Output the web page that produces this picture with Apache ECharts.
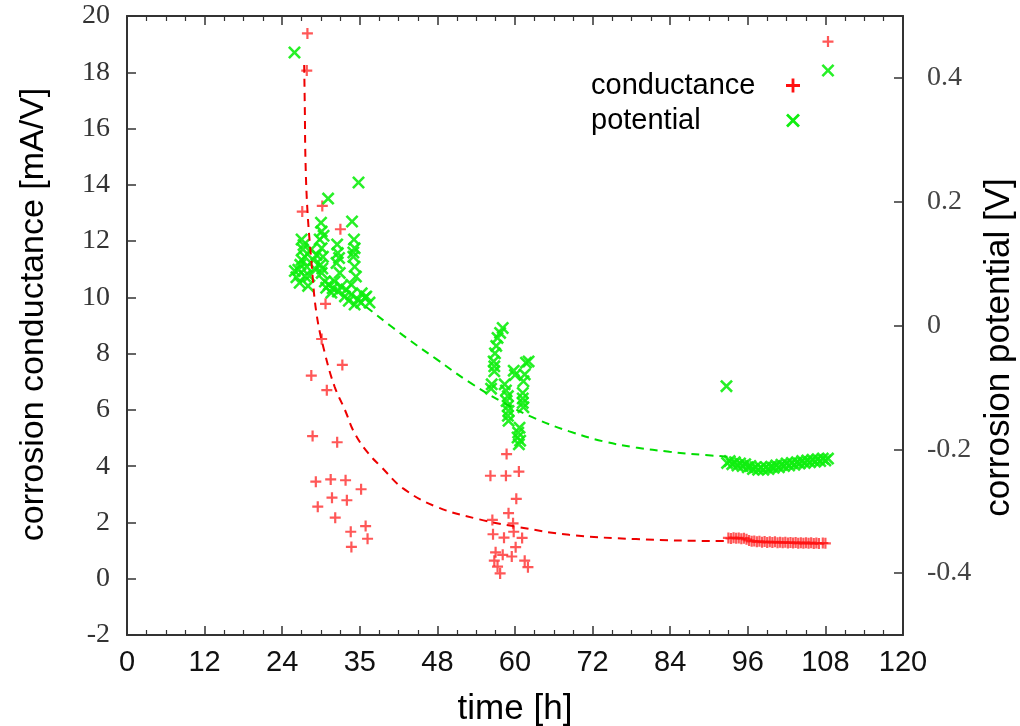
<!DOCTYPE html>
<html>
<head>
<meta charset="utf-8">
<script src="https://cdn.jsdelivr.net/npm/echarts@6/dist/echarts.min.js"></script>
<style>
html,body{margin:0;padding:0;background:#fff;}
#chart{width:1020px;height:726px;}
</style>
</head>
<body>
<div id="chart"></div>
<script>
// ---- tick labels ----
const xTickLabels = ['0','12','24','35','48','60','72','84','96','108','120'];
const rightTickValues = [-0.4, -0.2, 0, 0.2, 0.4];

// ---- conductance [mA/V] measurements: [time h, value] ----
const conductanceEarly = [
  [27.9,19.38],[27.8,18.06],[27.1,13.05],[30.2,13.25],[33.0,12.42],[30.7,9.77],
  [30.1,8.52],[33.3,7.6],[28.5,7.22],[30.9,6.7],[28.7,5.07],[32.5,4.85],
  [29.2,3.45],[31.5,3.53],[33.8,3.5],[36.2,3.18],[31.7,2.88],[34.0,2.79],
  [29.5,2.56],[32.2,2.17],[36.9,1.87],[34.6,1.67],[37.2,1.42],[34.7,1.13]
];
const conductanceMiddle = [
  [58.7,4.43],[56.2,3.66],[58.6,3.66],[60.6,3.81],[60.2,2.84],[59.0,2.33],
  [56.5,2.09],[59.7,1.97],[56.6,1.58],[58.3,1.46],[59.8,1.67],[61.1,1.45],
  [60.1,1.12],[57.0,0.94],[58.1,0.85],[59.5,0.79],[56.8,0.64],[61.5,0.64],
  [57.3,0.43],[62.0,0.41],[57.7,0.19]
];
const conductanceLate = [
  [93.0,1.45],[93.4,1.43],[93.8,1.46],[94.2,1.44],[94.6,1.45],[95.0,1.42],[95.4,1.44],
  [95.8,1.40],[96.2,1.36],[96.6,1.33],[97.0,1.34],[97.4,1.31],[97.8,1.33],[98.2,1.30],
  [98.6,1.32],[99.0,1.29],[99.4,1.31],[99.8,1.29],[100.2,1.31],[100.6,1.28],[101.0,1.30],
  [101.4,1.28],[101.8,1.30],[102.2,1.27],[102.6,1.29],[103.0,1.27],[103.4,1.29],[103.8,1.26],
  [104.2,1.28],[104.6,1.26],[105.0,1.28],[105.4,1.26],[105.8,1.28],[106.2,1.25],[106.6,1.27],
  [107.0,1.25],[107.6,1.27],[108.0,1.26],[108.4,19.09]
];

// ---- corrosion potential [V] measurements: [time h, value] ----
const potentialEarly = [
  [25.9,0.441],[35.8,0.231],[31.1,0.205],[34.8,0.168],
  [25.95,0.088],[27.0,0.139],[27.2,0.123],[27.0,0.106],[26.5,0.090],[27.5,0.080],
  [26.7,0.069],[28.0,0.064],[27.8,0.095],[27.5,0.111],[26.2,0.078],
  [30.0,0.166],[30.1,0.152],[29.8,0.139],[30.1,0.125],[30.3,0.111],[29.9,0.098],
  [30.1,0.085],[30.6,0.071],[29.3,0.114],[28.8,0.106],[28.5,0.123],
  [30.8,0.061],[31.6,0.053],[32.6,0.055],[33.7,0.047],[34.7,0.050],[35.7,0.042],
  [36.8,0.045],[37.5,0.037],[36.2,0.037],[35.2,0.034],[31.2,0.066],[33.9,0.058],
  [32.5,0.131],[32.6,0.117],[32.4,0.101],[32.9,0.085],[32.1,0.071],[33.1,0.063],
  [35.1,0.139],[35.2,0.125],[35.0,0.111],[35.2,0.095],[35.4,0.079],[34.7,0.066],
  [37.0,0.047],[36.3,0.052],[29.0,0.092],[31.8,0.060],[34.3,0.040],[28.2,0.080],
  [30.4,0.145],[32.8,0.109],[35.0,0.118],[27.3,0.130],[26.8,0.098],[30.2,0.092]
];
const potentialMiddle = [
  [58.1,-0.004],[57.7,-0.012],[57.3,-0.020],[57.1,-0.033],[56.9,-0.045],[56.7,-0.058],
  [56.8,-0.066],[56.8,-0.074],[56.4,-0.095],[56.3,-0.102],
  [58.4,-0.095],[58.6,-0.105],[58.9,-0.114],[58.7,-0.122],[58.9,-0.130],[59.0,-0.138],
  [58.9,-0.146],[59.0,-0.154],
  [59.8,-0.073],[60.0,-0.080],[61.7,-0.060],[62.1,-0.058],[61.5,-0.079],[61.3,-0.090],
  [61.2,-0.109],[61.2,-0.118],[61.2,-0.125],[61.3,-0.132],
  [60.7,-0.165],[60.4,-0.181],[60.6,-0.192],[60.5,-0.173],[60.8,-0.186]
];
const potentialLate = [
  [92.7,-0.098],
  [92.8,-0.222],[93.2,-0.219],[93.6,-0.224],[94.0,-0.221],[94.4,-0.226],[94.8,-0.223],
  [95.2,-0.227],[95.6,-0.224],[96.0,-0.229],[96.4,-0.227],[96.8,-0.232],[97.2,-0.229],
  [97.6,-0.233],[98.0,-0.230],[98.4,-0.233],[98.8,-0.229],[99.2,-0.232],[99.6,-0.228],
  [100.0,-0.230],[100.4,-0.226],[100.8,-0.229],[101.2,-0.225],[101.6,-0.227],[102.0,-0.223],
  [102.4,-0.226],[102.8,-0.222],[103.2,-0.225],[103.6,-0.221],[104.0,-0.223],[104.4,-0.219],
  [104.8,-0.222],[105.2,-0.218],[105.6,-0.221],[106.0,-0.217],[106.4,-0.220],[106.8,-0.216],
  [107.2,-0.219],[107.6,-0.215],[108.0,-0.218],[108.4,-0.215],[108.4,0.412]
];

// ---- dashed fit curves ----
const conductanceFit = [
  [27.4,18.26],[27.5,16.66],[27.6,14.88],[27.9,13.1],[28.5,11.33],[29.3,9.43],
  [30.6,8.01],[32.1,6.83],[33.7,6.0],[35.2,5.17],[37.3,4.46],[39.3,3.98],
  [42.7,3.21],[47.8,2.56],[54.5,2.11],[60.7,1.83],[68.4,1.56],[78.7,1.41],[92.1,1.34],[92.8,1.34]
];
const potentialFit = [
  [37.0,0.030],[42.7,-0.016],[47.8,-0.054],[53.0,-0.092],[58.1,-0.124],[63.3,-0.151],
  [68.4,-0.171],[73.6,-0.187],[78.7,-0.197],[83.9,-0.204],[89.0,-0.209],[93.1,-0.212]
];

const plusPath = 'path://M4,0H6V4H10V6H6V10H4V6H0V4H4Z';
const crossPath = 'path://M0,1.4L1.4,0L5,3.6L8.6,0L10,1.4L6.4,5L10,8.6L8.6,10L5,6.4L1.4,10L0,8.6L3.6,5Z';
const RED = '#ff1010';
const GREEN = '#10ee10';
const AXIS = '#333';

const chart = echarts.init(document.getElementById('chart'));
const xCommon = {
  type: 'value', min: 0, max: 120, interval: 12,
  axisLine: { show: true, onZero: false, lineStyle: { color: AXIS, width: 2 } },
  axisTick: { show: true, inside: true, length: 9, lineStyle: { color: AXIS, width: 1.5 } },
  minorTick: { show: true, splitNumber: 4, length: 5, lineStyle: { color: AXIS, width: 1.2 } },
  splitLine: { show: false }, minorSplitLine: { show: false }
};
chart.setOption({
  animation: false,
  backgroundColor: '#fff',
  grid: { left: 127, right: 117, top: 16, bottom: 91, containLabel: false, outerBoundsMode: 'none' },
  legend: {
    left: 586, top: 66, orient: 'vertical', align: 'right',
    itemGap: 6, itemWidth: 14, itemHeight: 14,
    formatter: '{t|{name}}',
    textStyle: {
      fontFamily: 'Liberation Sans', fontSize: 29, color: '#000',
      rich: { t: { width: 190, align: 'left', fontFamily: 'Liberation Sans', fontSize: 29, color: '#000' } }
    },
    data: [
      { name: 'conductance', icon: plusPath, itemStyle: { color: RED, opacity: 1 } },
      { name: 'potential', icon: crossPath, itemStyle: { color: GREEN, opacity: 1 } }
    ]
  },
  xAxis: [
    Object.assign({}, xCommon, {
      position: 'bottom',
      axisLabel: {
        margin: 13, fontFamily: 'Liberation Sans', fontSize: 29, color: '#111',
        formatter: v => xTickLabels[Math.round(v / 12)]
      },
      name: 'time [h]', nameLocation: 'middle', nameGap: 57,
      nameTextStyle: { fontFamily: 'Liberation Sans', fontSize: 35, color: '#000' }
    }),
    Object.assign({}, xCommon, { position: 'top', axisLabel: { show: false } })
  ],
  yAxis: [
    {
      type: 'value', min: -2, max: 20, interval: 2, position: 'left',
      axisLine: { show: true, onZero: false, lineStyle: { color: AXIS, width: 2 } },
      axisTick: { show: true, inside: true, length: 9, lineStyle: { color: AXIS, width: 1.5 } },
      splitLine: { show: false },
      axisLabel: { margin: 17, fontFamily: 'Liberation Serif', fontSize: 28, color: '#333' },
      name: 'corrosion conductance [mA/V]', nameLocation: 'middle', nameRotate: 90, nameGap: 76,
      nameTextStyle: { fontFamily: 'Liberation Sans', fontSize: 34, color: '#000', padding: [0, 0, 0, 22] }
    },
    {
      type: 'value', min: -0.5, max: 0.5, position: 'right',
      axisLine: { show: true, onZero: false, lineStyle: { color: AXIS, width: 2 } },
      axisTick: { show: true, inside: true, length: 9, customValues: rightTickValues, lineStyle: { color: AXIS, width: 1.5 } },
      splitLine: { show: false },
      axisLabel: {
        margin: 24, fontFamily: 'Liberation Serif', fontSize: 28, color: '#444',
        customValues: rightTickValues,
        formatter: v => String(Math.round(v * 10) / 10)
      },
      name: 'corrosion potential [V]', nameLocation: 'middle', nameRotate: 90, nameGap: 78,
      nameTextStyle: { fontFamily: 'Liberation Sans', fontSize: 35, color: '#000', padding: [0, 44, 0, 0] }
    }
  ],
  series: [
    {
      name: 'conductance', type: 'scatter', xAxisIndex: 0, yAxisIndex: 0,
      symbol: plusPath, symbolSize: 11,
      itemStyle: { color: RED, opacity: 0.7 },
      data: conductanceEarly.concat(conductanceMiddle, conductanceLate), z: 3
    },
    {
      name: 'potential', type: 'scatter', xAxisIndex: 0, yAxisIndex: 1,
      symbol: crossPath, symbolSize: 13,
      itemStyle: { color: GREEN, opacity: 0.9 },
      data: potentialEarly.concat(potentialMiddle, potentialLate), z: 3
    },
    {
      name: 'conductance fit', type: 'line', xAxisIndex: 0, yAxisIndex: 0,
      smooth: 0.4, showSymbol: false, silent: true,
      lineStyle: { color: '#ee0000', width: 2, type: [8, 6] },
      data: conductanceFit, z: 4
    },
    {
      name: 'potential fit', type: 'line', xAxisIndex: 0, yAxisIndex: 1,
      smooth: 0.4, showSymbol: false, silent: true,
      lineStyle: { color: '#00dd00', width: 2, type: [8, 6] },
      data: potentialFit, z: 4
    }
  ]
});
</script>
</body>
</html>
